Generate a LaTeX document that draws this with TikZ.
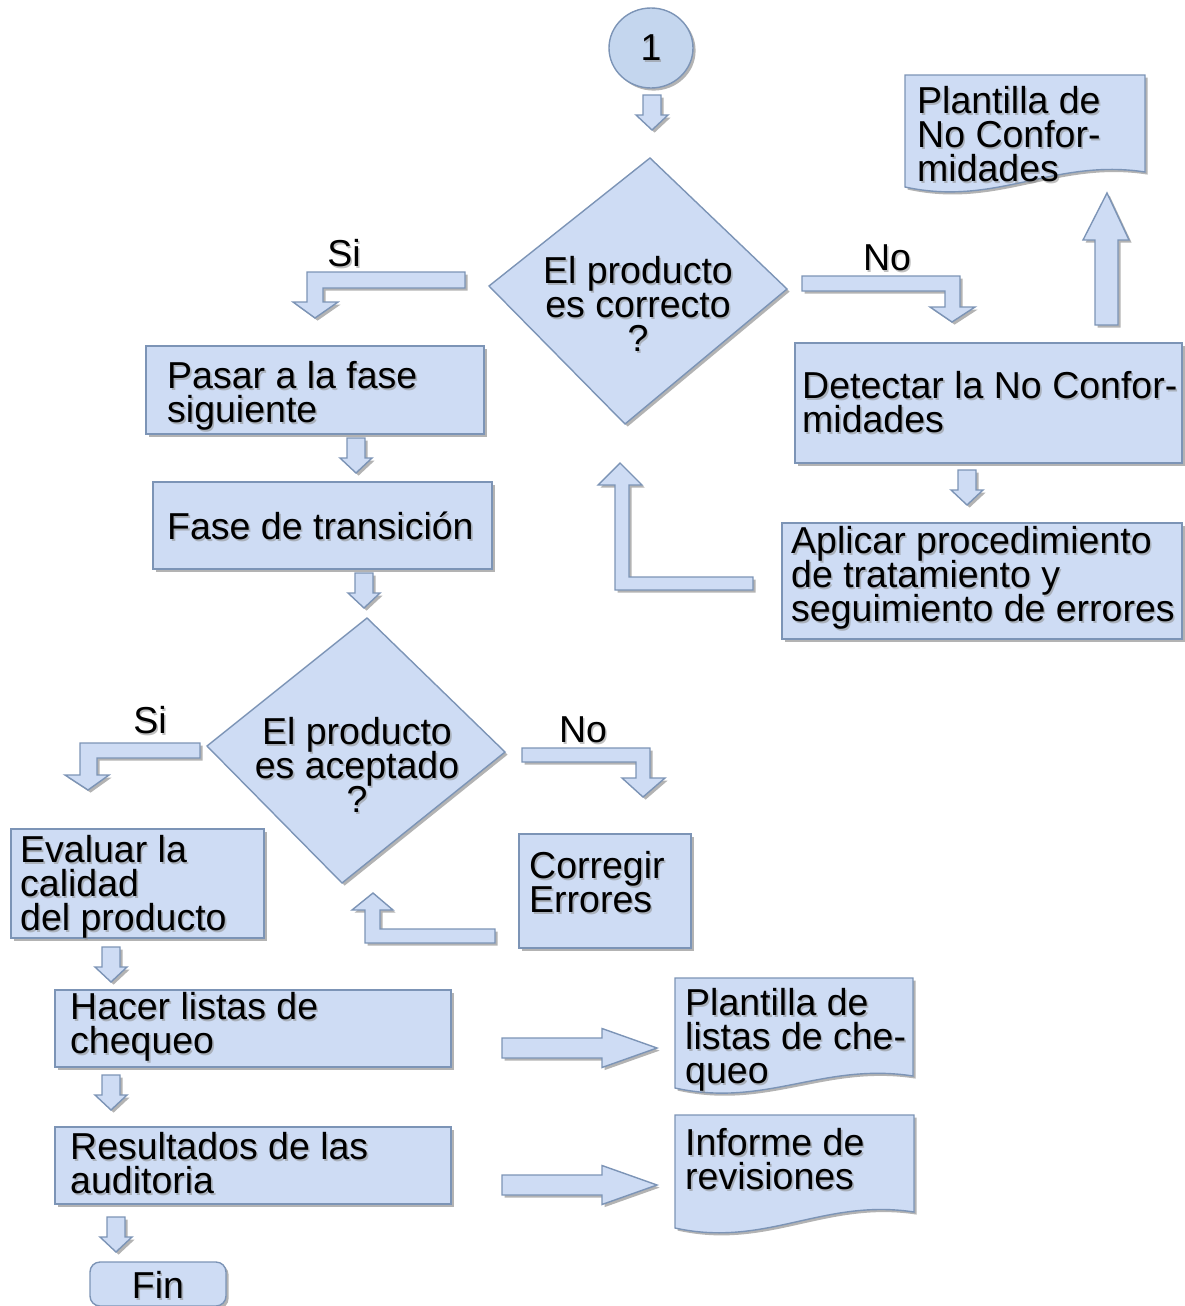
\documentclass[tikz,border=0pt]{standalone}
\usepackage{fontspec}
\setmainfont{Liberation Sans}
\usetikzlibrary{shadows,shapes.geometric}
\definecolor{boxfill}{RGB}{206,220,244}
\definecolor{boxline}{RGB}{124,148,182}
\definecolor{ballfill}{RGB}{196,214,238}
\newcommand\bigtext{\fontsize{37.5}{34}\selectfont}
\lineskiplimit=-60pt
\tikzset{
  x=1pt, y=-1pt,
  txt/.style={font=\bigtext, inner sep=0pt, text=black},
  txtsh/.style={font=\bigtext, inner sep=0pt, text=black!45, opacity=0.55, xshift=1.6pt, yshift=-1.6pt},
  shade/.style={drop shadow={shadow xshift=2.6pt, shadow yshift=-2.6pt, opacity=0.4, fill=black!75}},
  blk/.style={fill=boxfill, draw=boxline, line width=1.4pt, line join=miter, shade},
  procbox/.style={rectangle, blk, inner sep=0pt},
  darr/.pic={\draw[blk] (-9,0) -- (9,0) -- (9,20) -- (16,20) -- (0,35) -- (-16,20) -- (-9,20) -- cycle;},
  rarr/.pic={\draw[blk] (0,-10) -- (100,-10) -- (100,-19.5) -- (155,0) -- (100,19.5) -- (100,10) -- (0,10) -- cycle;},
}
% text with a soft offset shadow: name, position, anchor, alignment, text
\newcommand\labeltext[5]{%
  \node[txtsh, anchor=#3, align=#4] (#1-sh) at #2 {#5};
  \node[txt, anchor=#3, align=#4] (#1) at #2 {#5};}
% a page-like document shape: name, left x, right x, top y, bottom-left y, bottom-right y
\newcommand\docshape[6]{%
  \draw[blk] (#2,#4) -- (#3,#4) -- (#3,#6)
    .. controls ({#3-0.38*(#3-#2)},{#6-14}) and ({#2+0.38*(#3-#2)},{#5+20}) .. (#2,#5) -- cycle;
  \coordinate (#1) at ({(#2+#3)/2},{(#4+#5)/2});}
\begin{document}
\begin{tikzpicture}
\useasboundingbox (0,0) rectangle (1184,1306);

% start connector
\node[ellipse, fill=ballfill, draw=boxline, line width=1.4pt, shade,
      minimum width=84pt, minimum height=80pt, inner sep=0pt] (start) at (651,48) {};
\labeltext{start-t}{(651,48)}{center}{center}{1}
\pic (a0) at (652,95) {darr};

% first decision
\coordinate (d1n) at (650,158);
\coordinate (d1e) at (787,289);
\coordinate (d1s) at (625,424);
\coordinate (d1w) at (489,286);
\draw[blk] (d1n) -- (d1e) -- (d1s) -- (d1w) -- cycle;
\labeltext{d1-t}{(638,304)}{center}{center}{El producto\\es correcto\\?}

% branch "Si"
\labeltext{si1}{(344,253)}{center}{center}{Si}
\draw[blk] (465,272) -- (307,272) -- (307,302) -- (293,302) -- (315,318) -- (338,302)
  -- (323,302) -- (323,288) -- (465,288) -- cycle;

% branch "No"
\labeltext{no1}{(887,258)}{center}{center}{No}
\draw[blk] (802,276) -- (960,276) -- (960,307) -- (975,307) -- (952,322) -- (930,307)
  -- (945,307) -- (945,291) -- (802,291) -- cycle;

% non-conformity template
\docshape{doc1}{905}{1145}{75}{187}{172}
\labeltext{doc1-t}{(917,134)}{west}{left}{Plantilla de\\No Confor-\\midades}
\draw[blk] (1095,325) -- (1095,240) -- (1083,240) -- (1107,193) -- (1129,240)
  -- (1118,240) -- (1118,325) -- cycle;

% right column
\node[procbox, minimum width=387pt, minimum height=120pt] (detect) at (988.5,403) {};
\labeltext{detect-t}{(802,402)}{west}{left}{Detectar la No Confor-\\midades}
\pic (a1) at (967,470) {darr};
\node[procbox, minimum width=400pt, minimum height=116pt] (apply) at (982,581) {};
\labeltext{apply-t}{(791,578)}{west}{left}{Aplicar procedimiento\\de tratamiento y\\seguimiento de errores}
\draw[blk] (753,577) -- (629,577) -- (629,485) -- (642,485) -- (620,463) -- (598,485)
  -- (615,485) -- (615,590) -- (753,590) -- cycle;

% left column
\node[procbox, minimum width=338pt, minimum height=88pt] (next) at (315,390) {};
\labeltext{next-t}{(167,396)}{west}{left}{Pasar a la fase\\siguiente}
\pic (a2) at (356,438) {darr};
\node[procbox, minimum width=339pt, minimum height=87pt] (trans) at (322.5,525.5) {};
\labeltext{trans-t}{(167,526)}{west}{left}{Fase de transición}
\pic (a3) at (364,573) {darr};

% second decision
\coordinate (d2n) at (367,618);
\coordinate (d2e) at (505,752);
\coordinate (d2s) at (342,883);
\coordinate (d2w) at (207,746);
\draw[blk] (d2n) -- (d2e) -- (d2s) -- (d2w) -- cycle;
\labeltext{d2-t}{(357,765)}{center}{center}{El producto\\es aceptado\\?}

\labeltext{si2}{(150,720)}{center}{center}{Si}
\draw[blk] (200,743) -- (80,743) -- (80,775) -- (65,775) -- (88,790) -- (109,775)
  -- (97,775) -- (97,758) -- (200,758) -- cycle;

\labeltext{no2}{(583,730)}{center}{center}{No}
\draw[blk] (522,748) -- (650,748) -- (650,778) -- (665,778) -- (643,797) -- (622,778)
  -- (636,778) -- (636,762) -- (522,762) -- cycle;

\node[procbox, minimum width=253pt, minimum height=109pt] (eval) at (137.5,883.5) {};
\labeltext{eval-t}{(20,887)}{west}{left}{Evaluar la\\calidad\\del producto}

\node[procbox, minimum width=172pt, minimum height=114pt] (fix) at (605,891) {};
\labeltext{fix-t}{(529,882)}{west}{left}{Corregir\\Errores}
\draw[blk] (495,929) -- (380,929) -- (380,910) -- (393,910) -- (373,893) -- (352,910)
  -- (365,910) -- (365,943) -- (495,943) -- cycle;

\pic (a4) at (111,947) {darr};
\node[procbox, minimum width=396pt, minimum height=77pt] (check) at (253,1028.5) {};
\labeltext{check-t}{(70,1027)}{west}{left}{Hacer listas de\\chequeo}
\pic (a5) at (502,1048) {rarr};
\docshape{doc2}{675}{913}{978}{1088}{1076}
\labeltext{doc2-t}{(685,1040)}{west}{left}{Plantilla de\\listas de che-\\queo}

\pic (a6) at (111,1075) {darr};
\node[procbox, minimum width=396pt, minimum height=77pt] (audit) at (253,1165.5) {};
\labeltext{audit-t}{(70,1163)}{west}{left}{Resultados de las\\auditoria}
\pic (a7) at (502,1185) {rarr};
\docshape{doc3}{675}{914}{1115}{1228}{1212}
\labeltext{doc3-t}{(685,1159)}{west}{left}{Informe de\\revisiones}

\pic (a8) at (116,1217) {darr};
\node[rectangle, rounded corners=10pt, blk, minimum width=136pt, minimum height=44pt,
      inner sep=0pt] (end) at (158,1284) {};
\labeltext{end-t}{(158,1285)}{center}{center}{Fin}
\end{tikzpicture}
\end{document}
